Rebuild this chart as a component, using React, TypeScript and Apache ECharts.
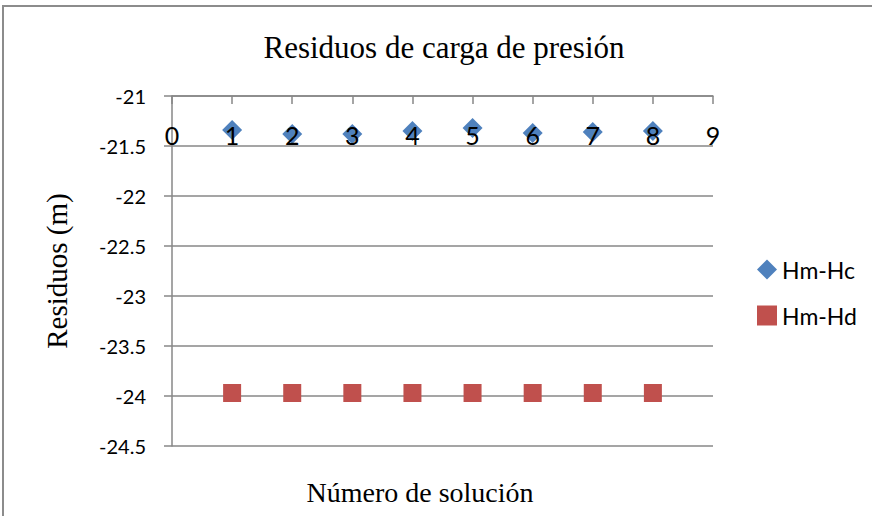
import React, { useEffect, useRef } from "react";
import * as echarts from "echarts";

const solutions = [1, 2, 3, 4, 5, 6, 7, 8];
const hmHc = [-21.34, -21.38, -21.38, -21.35, -21.32, -21.37, -21.36, -21.35];
const hmHd = [-23.97, -23.97, -23.97, -23.97, -23.97, -23.97, -23.97, -23.97];
const seriesNames = ["Hm-Hc", "Hm-Hd"];
const titleText = "Residuos de carga de presión";
const xName = "Número de solución";
const yName = "Residuos (m)";

export default function App() {
  const ref = useRef<HTMLDivElement>(null);
  useEffect(() => {
    document.body.style.margin = "0";
    const chart = echarts.init(ref.current!, null, { renderer: "svg" });
    const tickFont = "Lato, 'Open Sans', sans-serif";
    const serif = "'Liberation Serif', 'DejaVu Serif', serif";
    const gray = "#878787";
    chart.setOption({
      animation: false,
      backgroundColor: "#fff",
      title: {
        text: titleText,
        left: 439,
        textAlign: "center",
        top: 27,
        textStyle: { fontFamily: serif, fontSize: 31, fontWeight: "normal", color: "#000" },
      },
      legend: {
        orient: "vertical",
        left: 757,
        top: 258,
        padding: 0,
        itemGap: 23,
        itemWidth: 20,
        itemHeight: 20,
        textStyle: { fontFamily: tickFont, fontSize: 23, lineHeight: 20, color: "#000" },
        data: [
          { name: seriesNames[0], icon: "diamond" },
          { name: seriesNames[1], icon: "rect" },
        ],
      },
      grid: { left: 172, top: 96, right: 159, bottom: 70 },
      xAxis: {
        type: "value",
        position: "top",
        min: 0,
        max: 9,
        interval: 1,
        z: 10,
        axisLine: { show: true, onZero: false, lineStyle: { color: gray, width: 1.5 } },
        axisTick: { show: true, inside: true, length: 8, lineStyle: { color: gray, width: 1.5 } },
        axisLabel: { inside: true, margin: 26, fontFamily: tickFont, fontSize: 25, color: "#000" },
        splitLine: { show: false },
      },
      yAxis: {
        type: "value",
        min: -24.5,
        max: -21,
        interval: 0.5,
        axisLine: { show: true, lineStyle: { color: gray, width: 1.5 } },
        axisTick: { show: true, length: 8, lineStyle: { color: gray, width: 1.5 } },
        axisLabel: { margin: 26, fontFamily: tickFont, fontSize: 20, color: "#000" },
        splitLine: { show: true, lineStyle: { color: gray, width: 1.5 } },
      },
      graphic: [
        {
          type: "rect",
          shape: { x: 3, y: 6, width: 900, height: 600 },
          style: { fill: "none", stroke: "#8c8c8c", lineWidth: 2 },
          silent: true,
        },
        {
          type: "text",
          x: 420,
          y: 492,
          style: {
            text: xName,
            fontFamily: serif,
            fontSize: 28,
            fill: "#000",
            align: "center",
            verticalAlign: "middle",
          },
        },
        {
          type: "text",
          x: 57,
          y: 271,
          rotation: Math.PI / 2,
          style: {
            text: yName,
            fontFamily: serif,
            fontSize: 29,
            fill: "#000",
            align: "center",
            verticalAlign: "middle",
          },
        },
      ],
      series: [
        {
          name: seriesNames[0],
          type: "scatter",
          symbol: "diamond",
          symbolSize: 20,
          itemStyle: { color: "#4F81BD", opacity: 1 },
          data: solutions.map((s, i) => [s, hmHc[i]]),
          z: 2,
        },
        {
          name: seriesNames[1],
          type: "scatter",
          symbol: "rect",
          symbolSize: 18,
          itemStyle: { color: "#C0504D", opacity: 1 },
          data: solutions.map((s, i) => [s, hmHd[i]]),
          z: 2,
        },
      ],
    });
    return () => chart.dispose();
  }, []);
  return <div ref={ref} style={{ width: 872, height: 516 }} />;
}
